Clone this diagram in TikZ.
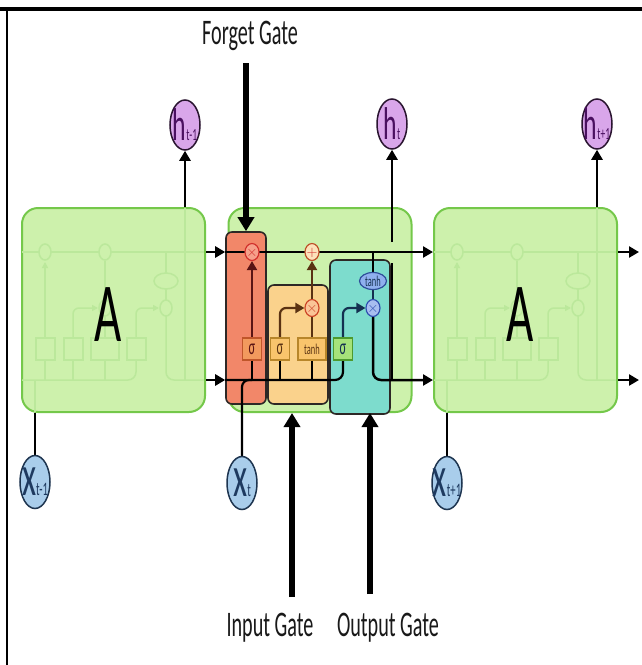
\documentclass[tikz,border=0pt]{standalone}
\usepackage{fontspec}
\setmainfont{Carlito}
\usetikzlibrary{arrows.meta,shapes.geometric}
\pgfdeclarelayer{back}
\pgfdeclarelayer{mid}
\pgfsetlayers{back,mid,main}

\definecolor{cellfill}{RGB}{205,241,172}
\definecolor{celledge}{RGB}{116,200,74}
\definecolor{cellfaint}{RGB}{187,232,155}
\definecolor{forgetfill}{RGB}{242,135,105}
\definecolor{inputfill}{RGB}{250,210,140}
\definecolor{outputfill}{RGB}{125,220,205}
\definecolor{gateedge}{RGB}{45,40,38}
\definecolor{hfill}{RGB}{217,166,234}
\definecolor{hedge}{RGB}{42,21,48}
\definecolor{htext}{RGB}{74,16,96}
\definecolor{xfill}{RGB}{169,205,235}
\definecolor{xedge}{RGB}{30,53,80}
\definecolor{xtext}{RGB}{30,58,96}
\definecolor{fdark}{RGB}{90,20,20}
\definecolor{idark}{RGB}{90,50,18}
\definecolor{odark}{RGB}{20,48,80}
\definecolor{mulffill}{RGB}{246,160,138}
\definecolor{mulfedge}{RGB}{210,48,44}
\definecolor{addfill}{RGB}{252,226,186}
\definecolor{addedge}{RGB}{190,80,40}
\definecolor{mulifill}{RGB}{250,196,150}
\definecolor{muliedge}{RGB}{205,70,40}
\definecolor{tanhfill}{RGB}{143,176,238}
\definecolor{tanhedge}{RGB}{46,78,154}
\definecolor{mulofill}{RGB}{168,190,240}
\definecolor{muloedge}{RGB}{48,80,176}
\definecolor{sigffill}{RGB}{242,154,94}
\definecolor{sigfedge}{RGB}{192,86,42}
\definecolor{sigifill}{RGB}{249,196,108}
\definecolor{sigiedge}{RGB}{184,134,42}
\definecolor{sigofill}{RGB}{166,226,122}
\definecolor{sigoedge}{RGB}{78,154,46}

\newcommand\sq[1]{\scalebox{0.56}[1]{#1}}
\newcommand\ctr[1]{\makebox[0pt]{\smash{\raisebox{-0.5\height}{#1}}}}

\tikzset{
  cellbox/.style={draw=celledge, fill=cellfill, line width=2pt, rounded corners=16pt,
    minimum width=183pt, minimum height=204pt},
  gatebox/.style={draw=gateedge, line width=1.6pt, rounded corners=6pt, inner sep=0pt},
  hnode/.style={ellipse, draw=hedge, fill=hfill, line width=1.5pt, minimum width=30pt,
    minimum height=50pt, inner sep=0pt, text=htext, font=\fontsize{46}{50}\selectfont},
  xnode/.style={ellipse, draw=xedge, fill=xfill, line width=1.5pt, minimum width=30pt,
    minimum height=53pt, inner sep=0pt, text=xtext, font=\fontsize{58}{60}\selectfont},
  opnode/.style={ellipse, line width=1.2pt, minimum width=14pt, minimum height=17pt,
    inner sep=0pt, font=\fontsize{15}{16}\selectfont},
  sigbox/.style={rectangle, line width=1.2pt, minimum width=19pt, minimum height=22pt,
    inner sep=0pt, font=\fontsize{22}{24}\selectfont},
  flow/.style={line width=2.5pt, -{Triangle[length=10pt,width=11pt]}},
  wire/.style={line width=2.2pt},
  inflow/.style={line width=2.2pt, -{Triangle[length=9pt,width=10pt]}},
  gatearrow/.style={line width=6pt, -{Triangle[length=14pt,width=16pt]}},
  gatelabel/.style={font=\fontsize{36}{40}\selectfont, text=black!90},
}

\begin{document}
\begin{tikzpicture}[x=1pt, y=-1pt]
\useasboundingbox (0,0) rectangle (642,665);

\begin{pgfonlayer}{back}
\fill[white] (0,0) rectangle (642,665);
\draw[line width=4pt] (0,9) -- (642,9);
\draw[line width=1.8pt] (7,9) -- (7,665);
\node[cellbox] (cellprev) at (113.5,310) {};
\node[cellbox] (cellcur) at (320,310) {};
\node[cellbox] (cellnext) at (525.5,310) {};
\foreach \dx in {-207,205} {
  \begin{scope}[xshift=\dx pt, cellfaint, line width=1.5pt]
  \draw (229,252) -- (411,252);
  \draw[rounded corners=8pt] (229,380) -| (343,360);
  \draw[rounded corners=8pt] (373,316) |- (411,380);
  \draw (392,208) -- (392,380);
  \draw (242,412) -- (242,380);
  \draw (252,380) -- (252,360) (280,380) -- (280,360) (312,380) -- (312,360);
  \draw[-{Triangle[length=6pt,width=6pt]}] (252,338) -- (252,262);
  \draw[rounded corners=6pt, -{Triangle[length=6pt,width=6pt]}] (280,338) |- (305,308);
  \draw (312,338) -- (312,316) (312,300) -- (312,261);
  \draw[rounded corners=6pt, -{Triangle[length=6pt,width=6pt]}] (343,338) |- (366,308);
  \draw (373,252) -- (373,300);
  \draw[fill=cellfill] (243,338) rectangle (262,360) (271,338) rectangle (290,360)
    (298,338) rectangle (326,360) (334,338) rectangle (353,360);
  \draw[fill=cellfill] (252,252) ellipse (6 and 8) (312,252) ellipse (6 and 8)
    (312,308) ellipse (6 and 8) (373,308) ellipse (6 and 8) (373,281) ellipse (12 and 8);
  \end{scope}
}
\node[gatebox, fill=forgetfill, minimum width=40pt, minimum height=172pt] (forget) at (246,318) {};
\node[gatebox, fill=inputfill, minimum width=60pt, minimum height=119pt] (input) at (298,344.5) {};
\node[gatebox, fill=outputfill, minimum width=60pt, minimum height=154pt] (output) at (360,337) {};
\end{pgfonlayer}

\node[font=\fontsize{84}{90}\selectfont] (aprev) at (108,315) {\sq{A}};
\node[font=\fontsize{84}{90}\selectfont] (anext) at (520,315) {\sq{A}};

\node[hnode] (hprev) at (185,125) {\ctr{\sq{h{\fontsize{17}{18}\selectfont t-1}}}};
\node[hnode] (hcur) at (392,124) {\ctr{\sq{h{\fontsize{17}{18}\selectfont t}}}};
\node[hnode] (hnext) at (597,124) {\ctr{\sq{h{\fontsize{17}{18}\selectfont t+1}}}};
\node[xnode] (xprev) at (35,482) {\ctr{\sq{x{\fontsize{19}{20}\selectfont t-1}}}};
\node[xnode] (xcur) at (242,483) {\ctr{\sq{x{\fontsize{19}{20}\selectfont t}}}};
\node[xnode] (xnext) at (447,483) {\ctr{\sq{x{\fontsize{19}{20}\selectfont t+1}}}};

\node[opnode, draw=mulfedge, fill=mulffill, text=mulfedge] (mulf) at (252,252) {\ctr{$\times$}};
\node[opnode, draw=addedge, fill=addfill, text=mulfedge] (addc) at (312,252) {\ctr{$+$}};
\node[opnode, draw=muliedge, fill=mulifill, text=muliedge] (muli) at (312,308) {\ctr{$\times$}};
\node[opnode, draw=muloedge, fill=mulofill, text=muloedge] (mulo) at (373,308) {\ctr{$\times$}};
\node[opnode, draw=tanhedge, fill=tanhfill, text=odark, minimum width=27pt,
  font=\fontsize{15}{16}\selectfont] (tanho) at (373,281) {\ctr{\sq{tanh}}};
\node[sigbox, draw=sigfedge, fill=sigffill, text=fdark] (sigf) at (252,349) {\ctr{\sq{σ}}};
\node[sigbox, draw=sigiedge, fill=sigifill, text=idark] (sigi) at (280,349) {\ctr{\sq{σ}}};
\node[sigbox, draw=sigiedge, fill=sigifill, text=idark, minimum width=28pt,
  font=\fontsize{15}{16}\selectfont] (tanhi) at (312,349) {\ctr{\sq{tanh}}};
\node[sigbox, draw=sigoedge, fill=sigofill, text=odark] (sigo) at (343,349) {\ctr{\sq{σ}}};

\node[gatelabel] (lforget) at (250,36) {\sq{Forget Gate}};
\node[gatelabel] (linput) at (270,628) {\sq{Input Gate}};
\node[gatelabel] (loutput) at (388,628) {\sq{Output Gate}};

\coordinate (cellrow) at (0,252);
\coordinate (hrow) at (0,380);
\coordinate (cellout) at (639,252);
\coordinate (hout) at (639,380);
\coordinate (hgaplo) at (392,263);
\coordinate (hgaphi) at (392,242);
\coordinate (ftop) at (246,63);
\coordinate (ibot) at (292,597);
\coordinate (obot) at (370,594);

\begin{pgfonlayer}{mid}
\draw[flow] (cellprev.east |- cellrow) -- (forget.west |- cellrow);
\draw[flow] (forget.west |- cellrow) -- (cellnext.west |- cellrow);
\draw[flow] (cellnext.east |- cellrow) -- (cellout);
\draw[flow] (cellprev.east |- hrow) -- (forget.west |- hrow);
\draw[wire, rounded corners=8pt] (forget.west |- hrow) -| (sigo.south);
\draw[wire, rounded corners=7pt] (xcur.north) |- (sigf.south |- hrow);
\draw[wire] (sigf.south |- hrow) -- (sigf.south);
\draw[wire] (sigi.south |- hrow) -- (sigi.south);
\draw[wire] (tanhi.south |- hrow) -- (tanhi.south);
\draw[inflow, fdark] (sigf.north) -- (mulf.south);
\draw[inflow, idark, rounded corners=6pt] (sigi.north) |- (muli.west);
\draw[wire, idark] (tanhi.north) -- (muli.south);
\draw[inflow, idark] (muli.north) -- (addc.south);
\draw[inflow, odark, rounded corners=6pt] (sigo.north) |- (mulo.west);
\draw[wire] (tanho.north |- cellrow) -- (tanho.north);
\draw[wire, odark] (tanho.south) -- (mulo.north);
\draw[flow, rounded corners=8pt] (mulo.south) |- (cellnext.west |- hrow);
\draw[wire] (hcur.south |- hrow) -- (hgaplo);
\draw[flow] (hgaphi) -- (hcur.south);
\draw[flow] (cellnext.east |- hrow) -- (hout);
\draw[flow] (hprev.south |- cellprev.north) -- (hprev.south);
\draw[flow] (hnext.south |- cellnext.north) -- (hnext.south);
\draw[wire] (xprev.north) -- (xprev.north |- cellprev.south);
\draw[wire] (xnext.north) -- (xnext.north |- cellnext.south);
\end{pgfonlayer}

\draw[gatearrow] (ftop) -- (ftop |- forget.north);
\draw[gatearrow] (ibot) -- (ibot |- cellcur.south);
\draw[gatearrow] (obot) -- (obot |- cellcur.south);
\end{tikzpicture}
\end{document}
